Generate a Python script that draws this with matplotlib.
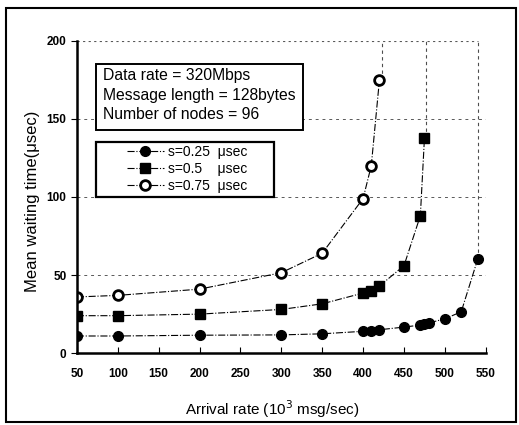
import matplotlib
matplotlib.use("Agg")
import matplotlib.pyplot as plt
from matplotlib.patches import Rectangle

plt.rcParams['font.family'] = ['Liberation Sans', 'DejaVu Sans']

x1 = [50, 100, 200, 300, 350, 400, 410, 420, 450, 470, 475, 480, 500, 520, 540]
y1 = [11, 11, 11.5, 11.7, 12.4, 14, 14.2, 15, 16.7, 18, 18.5, 19.3, 22, 26.5, 60]
x2 = [50, 100, 200, 300, 350, 400, 410, 420, 450, 470, 475]
y2 = [24, 24, 25, 28, 31.6, 38.5, 40, 43, 56, 88, 137.5]
x3 = [50, 100, 200, 300, 350, 400, 410, 420]
y3 = [36, 37, 41, 51.5, 64, 99, 120, 175]
labels = ['s=0.25  μsec', 's=0.5    μsec', 's=0.75  μsec']
info = ['Data rate = 320Mbps', 'Message length = 128bytes', 'Number of nodes = 96']
xticks = [50, 100, 150, 200, 250, 300, 350, 400, 450, 500, 550]
yticks = [0, 50, 100, 150, 200]
asym = [540, 477, 423]

fig = plt.figure(figsize=(5.19, 4.25), dpi=100)
fig.patches.append(Rectangle((0.012, 0.006), 0.982, 0.975, transform=fig.transFigure,
                             fill=False, edgecolor='black', linewidth=1.5))
ax = fig.add_axes([0.148, 0.169, 0.788, 0.735])
ax.set_xlim(50, 550)
ax.set_ylim(0, 200)

for yv in [50, 100, 150]:
    ax.axhline(yv, color='0.35', linestyle=(0, (3, 4)), linewidth=0.7, zorder=0)
ax.plot([50, 540], [200, 200], color='0.35', linestyle=(0, (2, 3)), linewidth=0.8, zorder=0)
ax.plot([550, 550], [0, 200], color='0.5', linestyle=(0, (2, 4)), linewidth=0.7, zorder=0)

ys_last = [y1[-1], y2[-1], y3[-1]]
for xa, yl in zip(asym, ys_last):
    ax.plot([xa, xa], [yl, 200], color='0.3', linestyle=(0, (3, 3)), linewidth=0.8)

ax.plot(x1, y1, color='black', linestyle='-.', linewidth=0.8, marker='o',
        markersize=7, markerfacecolor='black', label=labels[0])
ax.plot(x2, y2, color='black', linestyle='-.', linewidth=0.8, marker='s',
        markersize=7.5, markerfacecolor='black', label=labels[1])
ax.plot(x3, y3, color='black', linestyle='-.', linewidth=0.8, marker='o',
        markersize=7, markerfacecolor='white', markeredgewidth=2, label=labels[2])

for s in ['top', 'right']:
    ax.spines[s].set_visible(False)
ax.spines['left'].set_linewidth(1.8)
ax.spines['bottom'].set_linewidth(1.8)

ax.set_xticks(xticks)
ax.set_yticks(yticks)
ax.tick_params(axis='x', direction='in', length=4, labelsize=8.5, pad=11)
ax.tick_params(axis='y', direction='out', length=4, labelsize=8.5)
for t in ax.get_xticklabels() + ax.get_yticklabels():
    t.set_fontweight('bold')

ax.set_xlabel('Arrival rate (10$^3$ msg/sec)', fontsize=11)
ax.xaxis.set_label_coords(0.479, -0.145)
ax.set_ylabel('Mean waiting time(μsec)', fontsize=12)
ax.yaxis.set_label_coords(-0.09, 0.487)

# info box
ax.add_patch(Rectangle((0.046, 0.715), 0.507, 0.211, transform=ax.transAxes,
                       facecolor='white', edgecolor='black', linewidth=1.4, zorder=4))
for txt, yy in zip(info, [0.889, 0.825, 0.763]):
    ax.text(0.064, yy, txt, transform=ax.transAxes, fontsize=11.3,
            va='center', ha='left', zorder=5)

# legend box
ax.add_patch(Rectangle((0.046, 0.50), 0.436, 0.176, transform=ax.transAxes,
                       facecolor='white', edgecolor='black', linewidth=1.6, zorder=4))
leg = ax.legend(loc='center', bbox_to_anchor=(0.27, 0.59), fontsize=10,
                frameon=False, handlelength=2.6, borderpad=0.0,
                labelspacing=0.22, handletextpad=0.3, borderaxespad=0)
leg.set_zorder(6)

fig.savefig('out.png', dpi=100)
